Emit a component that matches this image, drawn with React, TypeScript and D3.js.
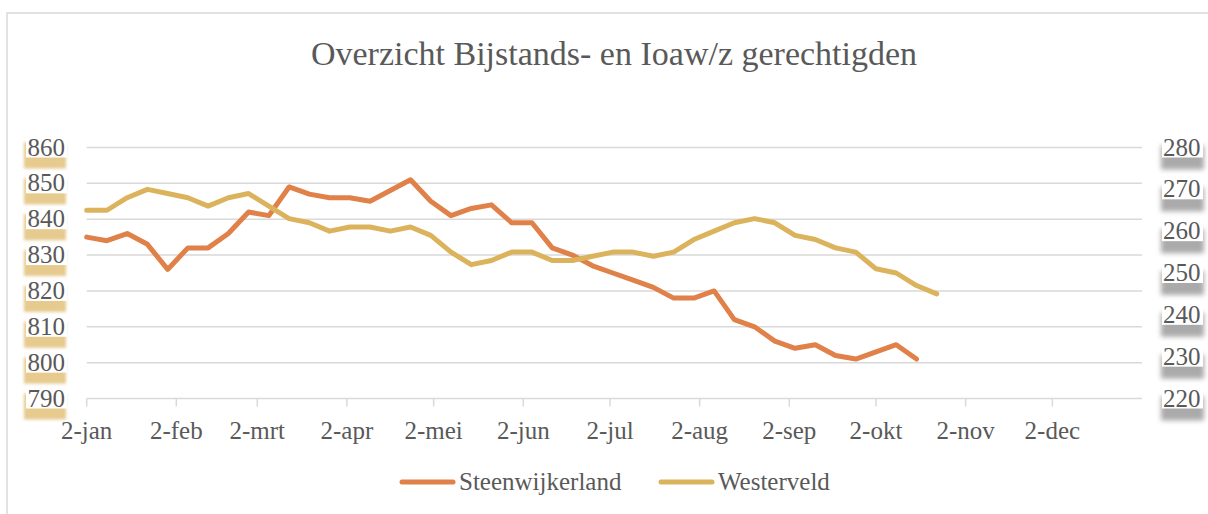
import React from 'react';
import * as d3 from 'd3';

const firstWeek = '2017-01-02';
const axisStart = '2017-01-02';
const axisEnd = '2018-01-02';

const steenwijkerland = [
  835, 834, 836, 833, 826, 832, 832, 836, 842, 841, 849, 847, 846, 846, 845, 848, 851, 845, 841, 843, 844,
  839, 839, 832, 830, 827, 825, 823, 821, 818, 818, 820, 812, 810, 806, 804, 805, 802, 801, 803, 805, 801,
];
const westerveld = [
  265, 265, 268, 270, 269, 268, 266, 268, 269, 266, 263, 262, 260, 261, 261, 260, 261, 259, 255, 252, 253,
  255, 255, 253, 253, 254, 255, 255, 254, 255, 258, 260, 262, 263, 262, 259, 258, 256, 255, 251, 250, 247, 245,
];

const tickDates = [
  '2017-01-02', '2017-02-02', '2017-03-02', '2017-04-02', '2017-05-02', '2017-06-02',
  '2017-07-02', '2017-08-02', '2017-09-02', '2017-10-02', '2017-11-02', '2017-12-02',
];
const tickLabels = ['2-jan', '2-feb', '2-mrt', '2-apr', '2-mei', '2-jun', '2-jul', '2-aug', '2-sep', '2-okt', '2-nov', '2-dec'];
const leftTicks = [790, 800, 810, 820, 830, 840, 850, 860];
const rightTicks = [220, 230, 240, 250, 260, 270, 280];
const seriesNames = ['Steenwijkerland', 'Westerveld'];
const title = 'Overzicht Bijstands- en Ioaw/z gerechtigden';

const ORANGE = '#E0814A';
const GOLD = '#DCB35D';
const TEXT = '#595959';
const GRID = '#D9D9D9';
const FONT = '"Liberation Serif", serif';

export default function App() {
  const parse = d3.timeParse('%Y-%m-%d');
  const start = parse(firstWeek) as Date;
  const x = d3.scaleTime().domain([parse(axisStart) as Date, parse(axisEnd) as Date]).range([86.7, 1142]);
  const yL = d3.scaleLinear().domain([790, 860]).range([398.5, 147.5]);
  const yR = d3.scaleLinear().domain([220, 280]).range([398.5, 147.5]);

  const sData = steenwijkerland.map((v, i) => ({ d: d3.timeDay.offset(start, 7 * i), v }));
  const wData = westerveld.map((v, i) => ({ d: d3.timeDay.offset(start, 7 * i), v }));

  const lineL = d3.line<{ d: Date; v: number }>().x((p) => x(p.d)).y((p) => yL(p.v));
  const lineR = d3.line<{ d: Date; v: number }>().x((p) => x(p.d)).y((p) => yR(p.v));

  const [x0, x1] = x.range();

  return (
    <svg width={1208} height={514} style={{ position: 'absolute', left: 0, top: 0, background: '#fff' }}>
      <defs>
        <filter id="blurTan" x="-20%" y="-50%" width="140%" height="200%">
          <feGaussianBlur stdDeviation="1.5" />
        </filter>
        <filter id="blurGray" x="-20%" y="-50%" width="140%" height="200%">
          <feGaussianBlur stdDeviation="2.5" />
        </filter>
      </defs>
      <rect x={0} y={0} width={1208} height={514} fill="#fff" />
      <rect x={7} y={13} width={1220} height={520} fill="none" stroke={GRID} strokeWidth={1.5} />

      <text x={614} y={65} textAnchor="middle" fontFamily={FONT} fontSize={34} fill={TEXT}>
        {title}
      </text>

      {leftTicks.map((t) => (
        <line key={'g' + t} x1={x0} x2={x1} y1={yL(t)} y2={yL(t)} stroke={GRID} strokeWidth={1.5} />
      ))}
      {tickDates.map((t) => {
        const xx = x(parse(t) as Date);
        return <line key={'tk' + t} x1={xx} x2={xx} y1={yL(790)} y2={yL(790) + 8} stroke={GRID} strokeWidth={1.5} />;
      })}

      {leftTicks.map((t) => {
        const cy = yL(t);
        return (
          <g key={'l' + t}>
            <rect x={24} y={cy - 5} width={42} height={26} fill="#E6CA8E" filter="url(#blurTan)" />
            <rect x={26} y={cy - 9} width={41} height={19} fill="#fff" />
            <text x={65} y={cy + 8} textAnchor="end" fontFamily={FONT} fontSize={25} fill={TEXT}>
              {t}
            </text>
          </g>
        );
      })}

      {rightTicks.map((t) => {
        const cy = yR(t);
        return (
          <g key={'r' + t}>
            <rect x={1161} y={cy - 2} width={43} height={24} fill="#8E8E8E" opacity={0.75} filter="url(#blurGray)" />
            <rect x={1162} y={cy - 9} width={41} height={19} fill="#fff" />
            <text x={1163} y={cy + 8} textAnchor="start" fontFamily={FONT} fontSize={25} fill={TEXT}>
              {t}
            </text>
          </g>
        );
      })}

      {tickDates.map((t, i) => (
        <text key={'xl' + t} x={x(parse(t) as Date)} y={439} textAnchor="middle" fontFamily={FONT} fontSize={25} fill={TEXT}>
          {tickLabels[i]}
        </text>
      ))}

      <path d={lineL(sData) || ''} fill="none" stroke={ORANGE} strokeWidth={5} strokeLinejoin="round" strokeLinecap="round" />
      <path d={lineR(wData) || ''} fill="none" stroke={GOLD} strokeWidth={5} strokeLinejoin="round" strokeLinecap="round" />

      <g>
        <line x1={402} x2={453} y1={482} y2={482} stroke={ORANGE} strokeWidth={5} strokeLinecap="round" />
        <text x={459} y={490} fontFamily={FONT} fontSize={25} fill={TEXT}>{seriesNames[0]}</text>
        <line x1={661} x2={712} y1={482} y2={482} stroke={GOLD} strokeWidth={5} strokeLinecap="round" />
        <text x={718} y={490} fontFamily={FONT} fontSize={25} fill={TEXT}>{seriesNames[1]}</text>
      </g>
    </svg>
  );
}
